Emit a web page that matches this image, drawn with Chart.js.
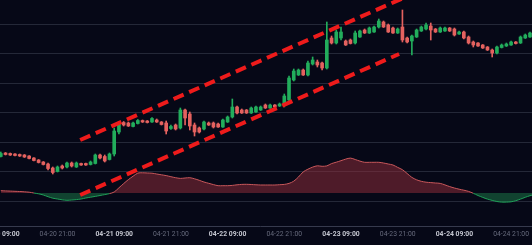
<!DOCTYPE html>
<html><head><meta charset="utf-8">
<script src="https://cdn.jsdelivr.net/npm/chart.js@4.4.1/dist/chart.umd.min.js"></script>
<style>
html,body{margin:0;padding:0;background:#060817;overflow:hidden;width:532px;height:245px;position:relative;}
#c{position:absolute;left:-40px;top:0;width:600px;height:245px;display:block;}
</style></head><body><canvas id="c" width="600" height="245"></canvas>
<script>
// hourly candles, index 0 = 04-20 09:00
const open = [69.5,73,72.5,72,71.5,71,70,68,66,64,62,58,54.5,60,59,63,59,62.5,62.5,61.5,62.5,71,69.5,66.5,72,94,103.5,103,99.5,102.5,105.5,105,104,106,104,103,97.5,101,98,116,112,101,98,97,103,103,102,99,104,109,119,116,116,113,114,116,121,118,121,120,121,126,146,151,156,151,162,164,163,158,188,183,188,185,186,183,189,196,193,194,199,204,201,198,193,199,188,185,189,195,197,200,197,194,195,198,197,192,194,189,184,183,181,179,176,173,178.5,180,181,184,183,188,189];
const close = [72.5,71.5,71,70.5,70,69,67.5,65.5,63.5,61.5,57.5,53.5,59,58,63,60,63,61,61,64,71,68,65,72,95,103,101,100,103,105.5,104,103.5,107.5,104,101.5,95,99.5,97,116,108,100,94,94,104,101,99,99,106,109,119,113,113,113,118,119,119,118,121,119,122,130,148,155,156,151,163,166,161,158,186,183,194,194,181,182.5,193,195,193,198,199,205,199,194,193,197,186,184,190,196,199,201,196,194,198,198,195,191,194,188,183,181,180,178,176,173,179,181,182,184,182.5,189,191,193];
const high = [74,73.5,73,72.5,72,71.5,70.5,68.5,66.5,64.5,63,59,60,61,64,64,64,63,63,65,72,72,71,73,98,104,104.5,104,104,106.5,106,105.5,108.5,107,104.5,105,101,102,118,117,114,103,99,105,104,104,103,107,110,127,120,117,116.5,119,120,120,122,122,121.5,123,132,150,157,157,157,165,169,166,164,204,190,196,199,186,187,195,196,197,199,200,207,205,202,199,198,216,189,191,197,200,203,203,197.5,199,199,198.5,198,195,195,190,185,183.5,181.5,179.5,177,180,182,183,185,184.5,190,192,194];
const low = [69,71,70.5,70,69.5,68.5,67,65,63,61,56,52,54,57,58,59,58.5,60.5,60.5,61,62,67,64,66,70,92,100,99.5,99,102,103.5,103,103.5,103.5,101,92,96.5,96,97,101,96,90,93,96,100.5,98,98.5,98.5,103.5,108,112,112.5,112.5,112.5,113.5,115.5,117.5,117.5,118.5,119.5,119,125,145,150.5,150.5,150,161,159,156,157,182,182,186,180.5,182,182,188.5,192.5,192.5,193.5,198,198.5,193.5,192.5,192.5,184,183,171,188.5,194.5,196,186,193.5,193.5,194.5,194.5,190,191.5,187,182,179,179.5,177.5,175.5,169,172,178,179.5,180.5,182,182.5,187.5,188.5];
// oscillator below the candles (0 = baseline)
const oscillator = [2.3,2.1,1.9,1.7,1.5,1.2,0.8,0,-0.8,-2,-3.7,-5.2,-6,-6.8,-7.3,-7,-6.6,-6,-5,-4.2,-3.4,-2.5,-1.6,-0.6,1,5.2,9.4,13.4,16.8,19.9,20.2,20,19.8,19,18.2,17.4,16.3,15.3,14.6,15,15.3,14.2,12.7,11,9.7,8.4,7.3,7.3,7.3,7.6,8.2,8.6,8.7,8.5,8.2,8,8,8,8,8.3,8.6,9.6,11.8,16,21.1,23.8,25.9,27.2,26.7,27.1,29.4,30.8,32.3,33.9,34.9,33.5,31.9,30.7,30.7,30.7,30.7,30,29,28,25.6,23.3,19.5,15.6,13.2,11.7,10.8,10.4,10,9.6,8.1,6.4,5,3.8,2.8,1.6,-0.3,-2.5,-4.4,-6.1,-7.4,-8.5,-9.1,-9.1,-8.8,-7.7,-6.1,-4.3,-2.7,-1.5];
// channel lines (hour index, price)
const upperX = [16.8, 85.5];
const upperY = [86, 228.6];
const lowerX = [16.8, 84.3];
const lowerY = [31, 172];
// axis ticks
const tickHours = [0,12,24,36,48,60,72,84,96,108];
const tickLabels = ['04-20 09:00','04-20 21:00','04-21 09:00','04-21 21:00','04-22 09:00','04-22 21:00','04-23 09:00','04-23 21:00','04-24 09:00','04-24 21:00'];
const gridValues = [25,54.5,84,113.5,143,172.5,202];

const GREEN = '#22ad5c', RED = '#e4625f';
const candleColor = (i) => close[i] >= open[i] ? GREEN : RED;

const bodies = open.map((o,i) => ({x:i, y:[o, close[i]]}));
const wicks = open.map((o,i) => ({x:i, y:[low[i], high[i]]}));
const osc = oscillator.map((v,i) => ({x:i, y:v}));
const upper = upperX.map((x,i) => ({x, y:upperY[i]}));
const lower = lowerX.map((x,i) => ({x, y:lowerY[i]}));

new Chart(document.getElementById('c'), {
  data: {
    datasets: [
      {type:'line', data: upper, borderColor:'#ee1b1b', borderWidth:4, borderDash:[11,6], pointRadius:0, order:0, yAxisID:'y', fill:false},
      {type:'line', data: lower, borderColor:'#ee1b1b', borderWidth:4, borderDash:[11,6], pointRadius:0, order:0, yAxisID:'y', fill:false},
      {type:'bar', data: bodies, backgroundColor: ctx => candleColor(ctx.dataIndex), barThickness:3, grouped:false, order:1, yAxisID:'y', borderWidth:0},
      {type:'bar', data: wicks, backgroundColor: ctx => candleColor(ctx.dataIndex), barThickness:1, grouped:false, order:2, yAxisID:'y', borderWidth:0},
      {type:'line', data: osc, yAxisID:'y2', order:3, pointRadius:0, borderWidth:1, tension:0.3,
        segment:{borderColor: ctx => (ctx.p0.parsed.y + ctx.p1.parsed.y) >= 0 ? '#c9585b' : '#1f9f58'},
        fill:{target:{value:0}, above:'rgba(150,45,60,0.5)', below:'rgba(30,140,80,0.45)'}}
    ]
  },
  options: {
    responsive:false, animation:false, devicePixelRatio:1,
    layout:{padding:0},
    plugins:{legend:{display:false}, tooltip:{enabled:false}},
    scales:{
      x:{type:'linear', min:-8.635, max:118.35, offset:false,
        grid:{display:false, drawTicks:false, offset:false},
        border:{display:true, color:'#363a4d', width:1},
        afterBuildTicks: s => { s.ticks = tickHours.map(v => ({value:v})); },
        afterFit: s => { s.height = 19; s.paddingLeft = 0; s.paddingRight = 0; },
        ticks:{autoSkip:false, maxRotation:0, padding:4,
          callback:(v,i) => tickLabels[i],
          color: ctx => ctx.index % 2 === 0 ? '#c4c6d0' : '#666a7c',
          font: ctx => ({family:'Roboto', size:6.8, weight: ctx.index % 2 === 0 ? 'bold' : 'normal'})}
      },
      y:{type:'linear', min:0, max:226, display:true,
        afterBuildTicks: s => { s.ticks = gridValues.map(v => ({value:v})); },
        afterFit: s => { s.width = 0; s.paddingTop = 0; s.paddingBottom = 0; },
        ticks:{display:false},
        border:{display:false},
        grid:{color:'#242838', lineWidth:1, drawTicks:false}
      },
      y2:{type:'linear', min:-33, max:193, display:false}
    }
  }
});
</script></body></html>
